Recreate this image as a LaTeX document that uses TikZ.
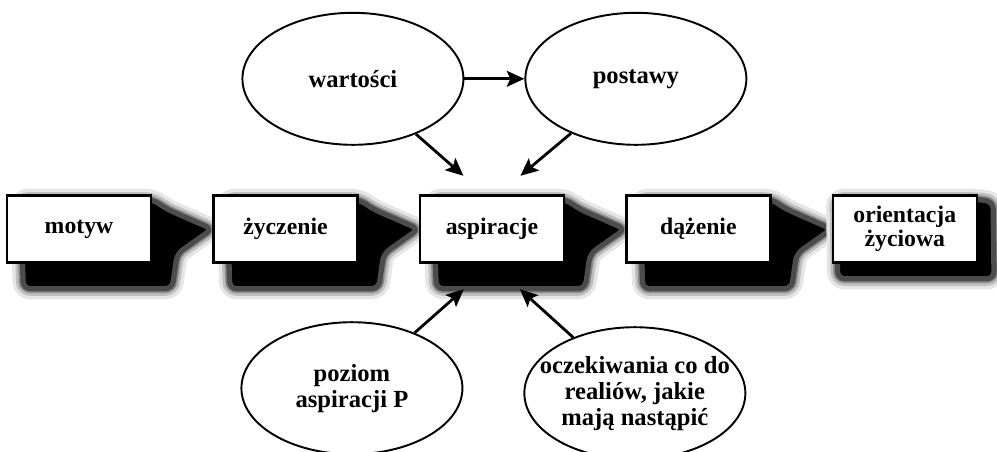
\documentclass[tikz,border=0pt]{standalone}
\usepackage{fontspec}
\setmainfont{Liberation Serif}
\usepackage{tikz}
\usetikzlibrary{shapes.geometric, arrows.meta, positioning, backgrounds}

\begin{document}
\begin{tikzpicture}[
        node distance=1.2cm,
        box/.style={rectangle, draw=black, fill=white, line width=1.4pt,
            minimum width=2.88cm, minimum height=1.34cm, align=center,
            font=\fontsize{13.5}{13.5}\selectfont\bfseries},
        oval/.style={ellipse, draw=black, fill=white, line width=1.1pt,
            minimum width=4.42cm, minimum height=2.64cm, inner sep=-0.45cm,
            align=center, font=\fontsize{14}{14.8}\selectfont\bfseries},
        arrow/.style={-{Stealth[length=10pt, width=9pt, inset=2pt]}, line width=1.6pt},
        dropshade/.style={fill=black, draw=black!70, line width=3pt,
            line join=round, rounded corners=4pt,
            preaction={draw=black!10, line width=12pt},
            preaction={draw=black!25, line width=8pt},
            preaction={draw=black!45, line width=5pt}}
        ]
        \useasboundingbox (0,0) rectangle (19.94,9.02);

        \node[box] (mot) at (1.58,4.44) {motyw};
        \node[box, right=of mot] (zyc) {życzenie};
        \node[box, right=of zyc] (asp) {aspiracje};
        \node[box, right=of asp] (daz) {dążenie};
        \node[box, right=of daz] (ori) {orientacja\\życiowa};

        \node[oval, above=0.97cm of asp, xshift=-2.78cm] (wart) {wartości};
        \node[oval, right=1.2cm of wart] (post) {postawy};
        \node[oval, below=1.15cm of asp, xshift=-2.8cm] (poz) {poziom\\aspiracji P};
        \node[oval, right=1.2cm of poz, yshift=-0.1cm] (ocz)
        {oczekiwania co do\\realiów, jakie\\mają nastąpić};

        % free ends of the arrows round aspiracje
        \coordinate (inwart) at ([xshift=-0.57cm, yshift=0.37cm]asp.north);
        \coordinate (inpost) at ([xshift=0.57cm, yshift=0.37cm]asp.north);
        \coordinate (inpoz) at ([xshift=-0.56cm, yshift=-0.51cm]asp.south);
        \coordinate (inocz) at ([xshift=0.56cm, yshift=-0.51cm]asp.south);

        \draw[arrow] (wart) -- (post);
        \draw[arrow] (wart) -- (inwart);
        \draw[arrow] (post) -- (inpost);
        \draw[arrow] (poz) -- (inpoz);
        \draw[arrow] (ocz) -- (inocz);

        % black shadows, pointing to the next box
        \begin{scope}[on background layer]
            \path[dropshade] ([yshift=-0.1cm]mot.north east)
                -- ([shift={(0.3cm,-0.3cm)}]mot.north east) -- (zyc.west)
                -- ([shift={(0.5cm,0.2cm)}]mot.south east)
                -- ([shift={(0.4cm,-0.5cm)}]mot.south east)
                -- ([shift={(0.35cm,-0.5cm)}]mot.south west)
                -- ([shift={(0.3cm,-0.1cm)}]mot.north west) -- cycle;
            \path[dropshade] ([yshift=-0.1cm]zyc.north east)
                -- ([shift={(0.3cm,-0.3cm)}]zyc.north east) -- (asp.west)
                -- ([shift={(0.5cm,0.2cm)}]zyc.south east)
                -- ([shift={(0.4cm,-0.5cm)}]zyc.south east)
                -- ([shift={(0.35cm,-0.5cm)}]zyc.south west)
                -- ([shift={(0.3cm,-0.1cm)}]zyc.north west) -- cycle;
            \path[dropshade] ([yshift=-0.1cm]asp.north east)
                -- ([shift={(0.3cm,-0.3cm)}]asp.north east) -- (daz.west)
                -- ([shift={(0.5cm,0.2cm)}]asp.south east)
                -- ([shift={(0.4cm,-0.5cm)}]asp.south east)
                -- ([shift={(0.35cm,-0.5cm)}]asp.south west)
                -- ([shift={(0.3cm,-0.1cm)}]asp.north west) -- cycle;
            \path[dropshade] ([yshift=-0.1cm]daz.north east)
                -- ([shift={(0.3cm,-0.3cm)}]daz.north east) -- (ori.west)
                -- ([shift={(0.5cm,0.2cm)}]daz.south east)
                -- ([shift={(0.4cm,-0.5cm)}]daz.south east)
                -- ([shift={(0.35cm,-0.5cm)}]daz.south west)
                -- ([shift={(0.3cm,-0.1cm)}]daz.north west) -- cycle;
            \path[dropshade] ([yshift=-0.1cm]ori.north east)
                -- ([shift={(0.3cm,-0.15cm)}]ori.north east)
                -- ([shift={(0.32cm,-0.3cm)}]ori.south east)
                -- ([shift={(0.12cm,-0.3cm)}]ori.south west)
                -- ([shift={(0.1cm,-0.1cm)}]ori.north west) -- cycle;
        \end{scope}
\end{tikzpicture}
\end{document}
